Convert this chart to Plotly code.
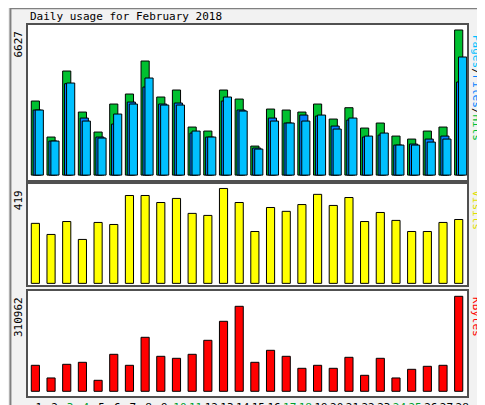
import plotly.graph_objects as go
from plotly.subplots import make_subplots

days = list(range(1, 29))
weekend = [3, 4, 10, 11, 17, 18, 24, 25]

hits = [3382, 1737, 4753, 2879, 1965, 3245, 3702, 5210, 3565, 3885, 2194, 2011, 3885, 3473,
        1325, 3016, 2971, 2879, 3245, 2559, 3077, 2148, 2377, 1782, 1645, 2011, 2194, 6627]
files = [2971, 1554, 4174, 2605, 1737, 2331, 3336, 4022, 3245, 3291, 1920, 1737, 3382, 2971,
         1234, 2605, 2377, 2742, 2696, 2239, 2514, 1737, 1828, 1371, 1417, 1645, 1782, 4250]
pages = [2971, 1554, 4205, 2468, 1691, 2788, 3245, 4433, 3199, 3199, 2011, 1737, 3565, 2925,
         1188, 2468, 2377, 2468, 2742, 2102, 2605, 1782, 1920, 1371, 1371, 1508, 1645, 5393]
visits = [265, 216, 273, 194, 269, 260, 388, 388, 357, 375, 309, 300, 419, 357,
          229, 335, 318, 348, 393, 344, 379, 273, 313, 278, 229, 229, 269, 282]
kbytes = [85107, 43643, 88380, 94925, 36005, 121107, 85107, 176752, 114561, 108015, 121107,
          166933, 229120, 278221, 94925, 134200, 114561, 75283, 85107, 75283, 111288, 52371,
          108015, 43643, 72010, 81830, 85107, 310962]

tick_text = [f"<span style='color:#00a030'>{d}</span>" if d in weekend else str(d) for d in days]

fig = make_subplots(rows=3, cols=1, shared_xaxes=True)
line = dict(color="black", width=1)
fig.add_trace(go.Bar(x=days, y=hits, marker=dict(color="#00c030", line=line),
                     width=0.52, offset=-0.48), row=1, col=1)
fig.add_trace(go.Bar(x=days, y=files, marker=dict(color="#0080ff", line=line),
                     width=0.52, offset=-0.36), row=1, col=1)
fig.add_trace(go.Bar(x=days, y=pages, marker=dict(color="#00c0ff", line=line),
                     width=0.52, offset=-0.23), row=1, col=1)
fig.add_trace(go.Bar(x=days, y=visits, marker=dict(color="#ffff00", line=line),
                     width=0.52, offset=-0.48), row=2, col=1)
fig.add_trace(go.Bar(x=days, y=kbytes, marker=dict(color="#ff0000", line=line),
                     width=0.52, offset=-0.48), row=3, col=1)

font = dict(family="DejaVu Sans Mono", size=11, color="black")
fig.update_layout(
    width=485, height=405, barmode="overlay", showlegend=False,
    paper_bgcolor="#f2f2f2", plot_bgcolor="white", font=font,
    margin=dict(l=20, r=26, t=17, b=17, autoexpand=False),
    yaxis=dict(domain=[0.582, 1], range=[-228, 6855]),
    yaxis2=dict(domain=[0.299, 0.571], range=[-7.5, 438]),
    yaxis3=dict(domain=[0, 0.283], range=[-15400, 328300]),
    shapes=[dict(type="rect", xref="paper", yref="paper", x0=-0.04, x1=1.05, y0=-0.045, y1=1.045,
                 line=dict(color="#808080", width=2))],
)
for ax in ["xaxis", "xaxis2", "xaxis3"]:
    fig.layout[ax].update(range=[0.31, 28.31], showgrid=False, zeroline=False,
                          showline=True, mirror=True, linecolor="#505050", linewidth=2,
                          ticks="", showticklabels=False)
fig.layout.xaxis3.update(showticklabels=True, tickvals=days, ticktext=tick_text)
for ax in ["yaxis", "yaxis2", "yaxis3"]:
    fig.layout[ax].update(showgrid=False, zeroline=False, showticklabels=False, ticks="",
                          showline=True, mirror=True, linecolor="#505050", linewidth=2)

left = dict(x=0, xref="paper", yref="paper", textangle=-90, xanchor="center",
            yanchor="top", showarrow=False, yshift=-4, xshift=-10)
right = dict(x=1, xref="paper", yref="paper", textangle=90, xanchor="center",
             yanchor="top", showarrow=False, yshift=-4, xshift=10)
ann = [
    dict(x=0.0, y=1.0, xref="paper", yref="paper", text="Daily usage for February 2018",
         xanchor="left", yanchor="bottom", showarrow=False),
    dict(left, y=1.0, text="6627"),
    dict(left, y=0.571, text="419"),
    dict(left, y=0.283, text="310962"),
    dict(right, y=1.0, yshift=-8,
         text="<span style='color:#00c0ff'>Pages</span>/<span style='color:#0080ff'>Files</span>/<span style='color:#00c030'>Hits</span>"),
    dict(right, y=0.571, text="<span style='color:#e0e000'>Visits</span>"),
    dict(right, y=0.283, text="<span style='color:#ff0000'>KBytes</span>"),
]
fig.update_layout(annotations=ann)

fig.write_html("out.html")
